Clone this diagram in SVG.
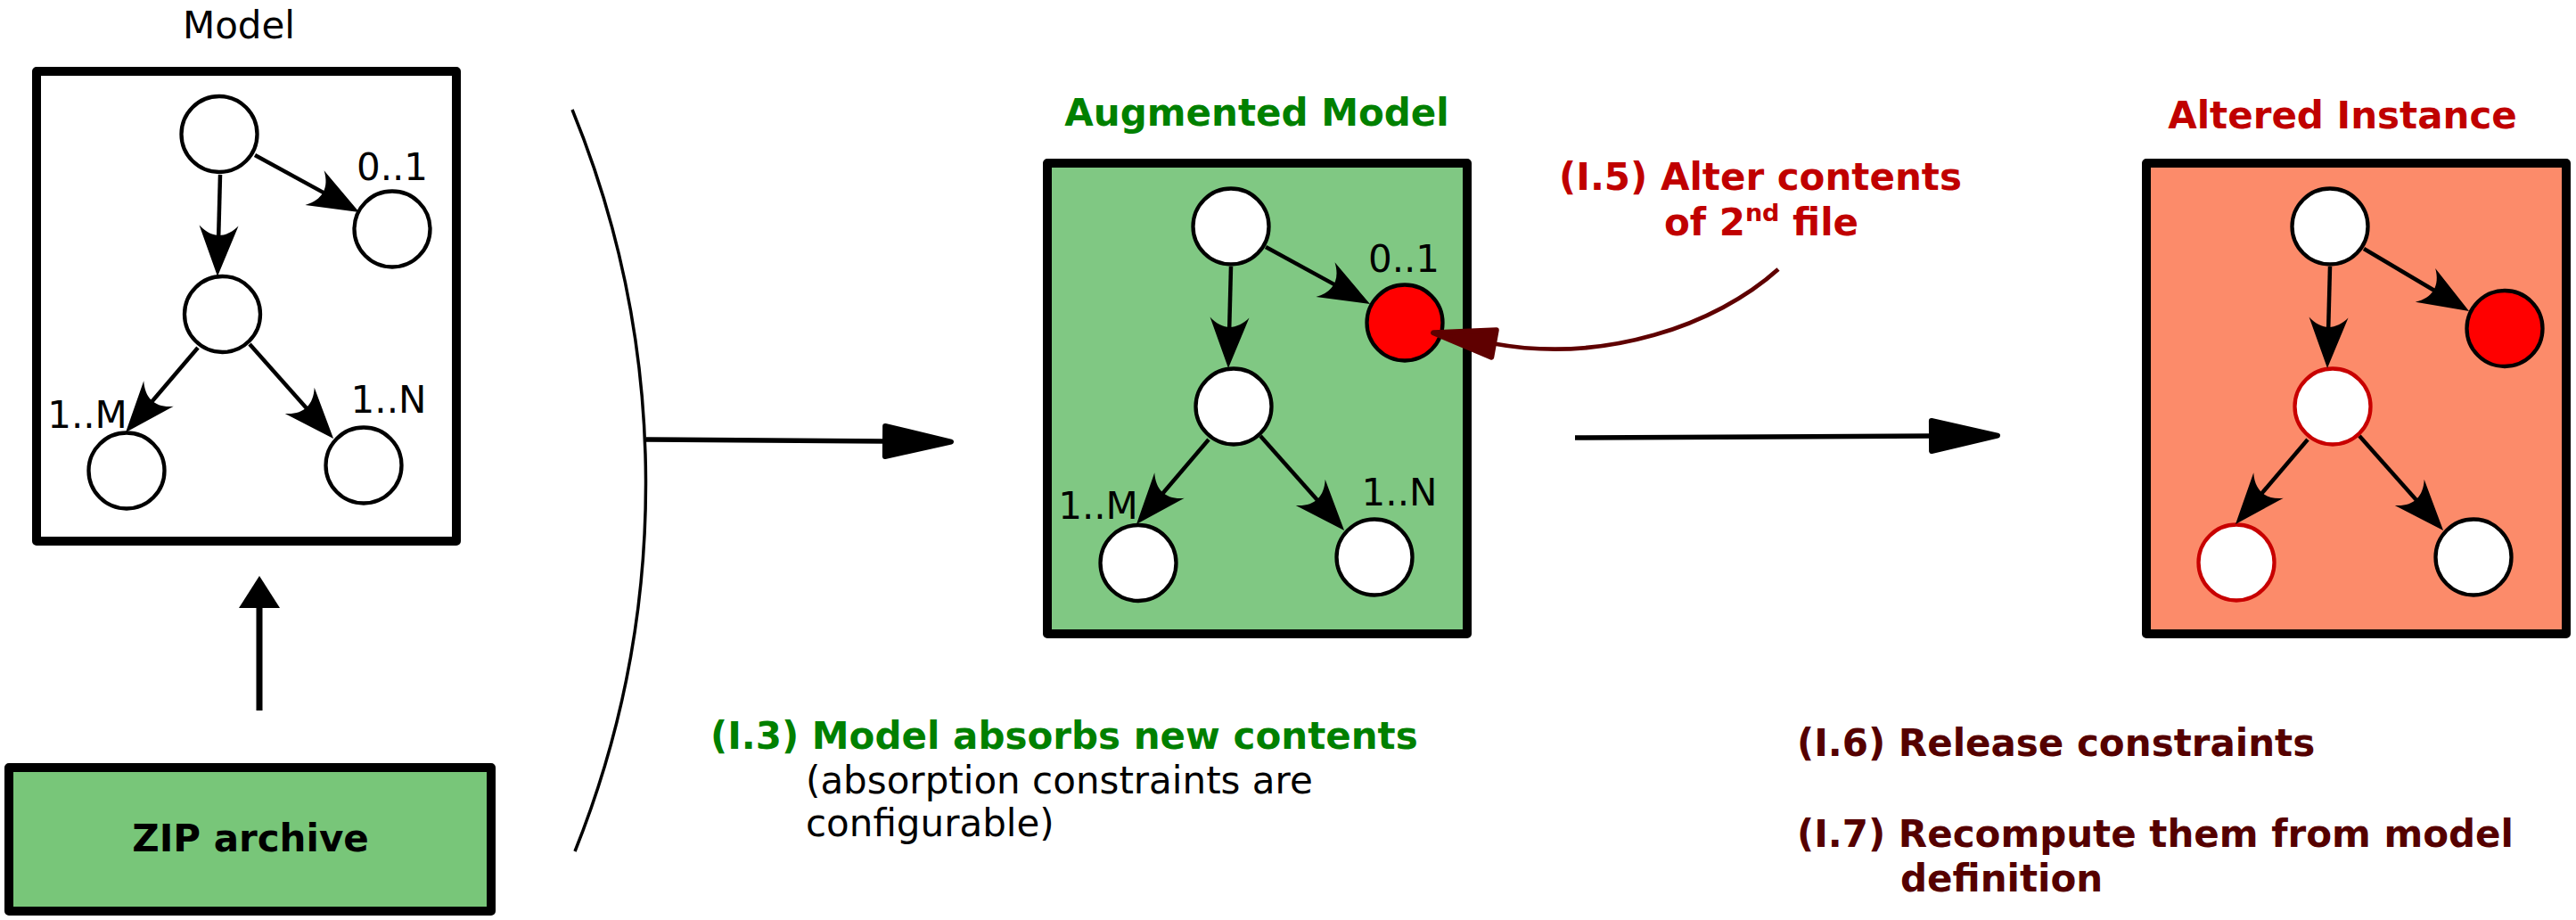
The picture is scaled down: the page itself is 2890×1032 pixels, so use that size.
<svg xmlns="http://www.w3.org/2000/svg" width="2890" height="1032" viewBox="0 0 2890 1032">
<style>
.box{stroke:#000;stroke-width:10;stroke-linejoin:round}
.nd{fill:#fff;stroke:#000;stroke-width:4.3}
.red{fill:#f00}
.alt{stroke:#c80000}
.edge{fill:none;stroke:#000;stroke-width:4.5;marker-end:url(#concave)}
.t{font-family:"DejaVu Sans","Liberation Sans",sans-serif;font-size:42px}
.c{text-anchor:middle}
.b{font-weight:bold}
.g{fill:#008000}
.r{fill:#c00000}
.dr{fill:#550000}
</style>
<defs>
<marker id="concave" markerUnits="userSpaceOnUse" viewBox="-15 -25 65 50" markerWidth="65" markerHeight="50" refX="0" refY="0" orient="auto">
<path d="M45 0 L-12 -22 C2.5 -8 2.5 8 -12 22 Z" fill="#000"/>
</marker>
<marker id="tri" markerUnits="userSpaceOnUse" viewBox="-5 -25 90 50" markerWidth="90" markerHeight="50" refX="0" refY="0" orient="auto">
<path d="M0 -17 L74 0 L0 17 Z" fill="#000" stroke="#000" stroke-width="6" stroke-linejoin="round"/>
</marker>
<marker id="trired" markerUnits="userSpaceOnUse" viewBox="-5 -25 85 50" markerWidth="85" markerHeight="50" refX="0" refY="0" orient="auto">
<path d="M0 -15.5 L69 0 L0 15.5 Z" fill="#5f0000" stroke="#5f0000" stroke-width="6" stroke-linejoin="round"/>
</marker>
<marker id="up" markerUnits="userSpaceOnUse" viewBox="-2 -25 42 50" markerWidth="42" markerHeight="50" refX="0" refY="0" orient="auto">
<path d="M0 -23 L36 0 L0 23 Z" fill="#000"/>
</marker>
</defs>

<!-- containers -->
<g id="model">
<rect class="box" x="41" y="80" width="471" height="527" fill="#fff"/>
<text class="t c" x="268" y="43">Model</text>
</g>
<g id="zip">
<rect class="box" x="10" y="861" width="541" height="161" fill="#78c679"/>
<text class="t c b" x="281" y="955">ZIP archive</text>
</g>
<g id="augmented">
<rect class="box" x="1175" y="183" width="471" height="528" fill="#80c883"/>
<text class="t c b g" x="1410" y="141">Augmented Model</text>
</g>
<g id="altered">
<rect class="box" x="2408" y="183" width="471" height="528" fill="#fc8b6a"/>
<text class="t c b r" x="2628" y="144">Altered Instance</text>
</g>

<!-- model nodes -->
<g id="m-top"><circle class="nd" cx="246" cy="150.5" r="42.5"/></g>
<g id="m-opt"><circle class="nd" cx="440" cy="257" r="42.5"/><text class="t c" x="440" y="202">0..1</text></g>
<g id="m-mid"><circle class="nd" cx="249.5" cy="352.5" r="42.5"/></g>
<g id="m-m"><circle class="nd" cx="142" cy="528" r="42.5"/><text class="t c" x="98" y="480">1..M</text></g>
<g id="m-n"><circle class="nd" cx="408" cy="522" r="42.5"/><text class="t c" x="436" y="463">1..N</text></g>

<!-- augmented nodes -->
<g id="a-top"><circle class="nd" cx="1381" cy="254" r="42.5"/></g>
<g id="a-opt"><circle class="nd red" cx="1576" cy="362" r="42.5"/><text class="t c" x="1575" y="305">0..1</text></g>
<g id="a-mid"><circle class="nd" cx="1384" cy="456" r="42.5"/></g>
<g id="a-m"><circle class="nd" cx="1277" cy="631.5" r="42.5"/><text class="t c" x="1232" y="582">1..M</text></g>
<g id="a-n"><circle class="nd" cx="1542" cy="625" r="42.5"/><text class="t c" x="1570" y="567">1..N</text></g>

<!-- altered nodes -->
<g id="x-top"><circle class="nd" cx="2614" cy="254" r="42.5"/></g>
<g id="x-opt"><circle class="nd red" cx="2810" cy="368.5" r="42.5"/></g>
<g id="x-mid"><circle class="nd alt" cx="2617" cy="456" r="42.5"/></g>
<g id="x-m"><circle class="nd alt" cx="2509" cy="631" r="42.5"/></g>
<g id="x-n"><circle class="nd" cx="2775" cy="625" r="42.5"/></g>

<!-- annotations -->
<g id="note-i5">
<text class="t c b r" x="1975" y="213">(I.5) Alter contents</text>
<text class="t c b r" x="1976" y="264">of 2<tspan font-size="27" dy="-16">nd</tspan><tspan dy="16"> file</tspan></text>
</g>
<g id="note-i3">
<text class="t b g" x="797" y="840">(I.3) Model absorbs new contents</text>
<text class="t" x="904" y="890">(absorption constraints are</text>
<text class="t" x="904" y="938">configurable)</text>
</g>
<g id="note-i6">
<text class="t b dr" x="2016" y="848">(I.6) Release constraints</text>
<text class="t b dr" x="2016" y="950">(I.7) Recompute them from model</text>
<text class="t b dr" x="2132" y="1000">definition</text>
</g>

<!-- connectors -->
<g id="connectors">
<path class="edge" d="M286 174 L363.5 216.4"/>
<path class="edge" d="M247 196 L245.2 265"/>
<path class="edge" d="M222 390 L170.2 450.7"/>
<path class="edge" d="M280 386 L344.2 458.3"/>

<path class="edge" d="M1420 277 L1497.5 319.4"/>
<path class="edge" d="M1381 299 L1379.2 368"/>
<path class="edge" d="M1356 493 L1304.2 553.7"/>
<path class="edge" d="M1414 489 L1478.2 561.3"/>

<path class="edge" d="M2652 279 L2731.3 326"/>
<path class="edge" d="M2614 299 L2612.2 368"/>
<path class="edge" d="M2589 493 L2537.2 553.7"/>
<path class="edge" d="M2647 489 L2711.2 561.3"/>

<path d="M291 797 L291 682" fill="none" stroke="#000" stroke-width="7" marker-end="url(#up)"/>
<path d="M642 123 A1109 1109 0 0 1 645 955" fill="none" stroke="#000" stroke-width="3.5"/>
<path d="M725 493 L993 495" fill="none" stroke="#000" stroke-width="5.5" marker-end="url(#tri)"/>
<path d="M1767 491 L2167 489" fill="none" stroke="#000" stroke-width="5.5" marker-end="url(#tri)"/>
<path d="M1995 302 C1925 365 1800 408 1676 385.5" fill="none" stroke="#5f0000" stroke-width="4.8" marker-end="url(#trired)"/>
</g>
</svg>
